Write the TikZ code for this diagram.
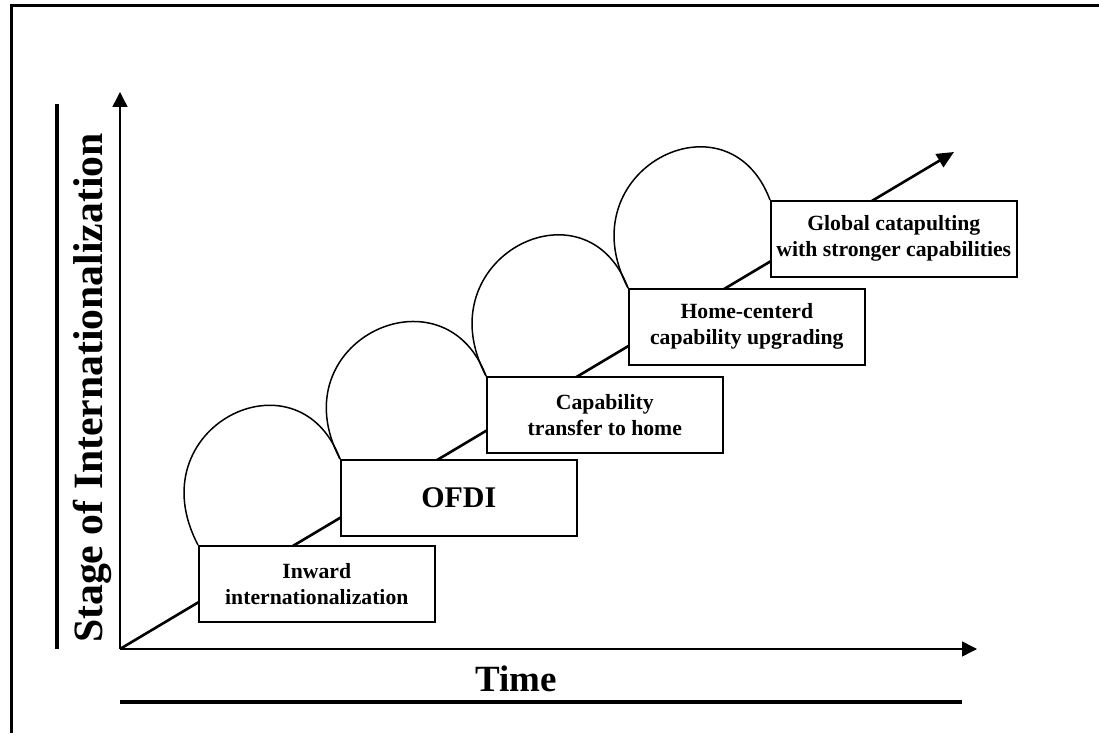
\documentclass[tikz,border=0pt]{standalone}
\usepackage{fontspec}
\setmainfont{Liberation Serif}
\usepackage{tikz}
\usetikzlibrary{arrows.meta, positioning}

\begin{document}
\begin{tikzpicture}[x=1pt, y=1pt, every node/.style={align=center},
    axis/.style={line width=1.5pt, -{Triangle[length=15pt, width=15pt]}},
    trend/.style={line width=2.6pt, -{Triangle[length=17pt, width=15pt]}},
    bar/.style={line width=4pt},
    stageloop/.style={line width=1.5pt},
    stagebox/.style={
        draw,
        line width=1.6pt,
        fill=white,
        minimum width=236pt,
        minimum height=76pt,
        inner sep=2pt,
        font=\bfseries\fontsize{21.7}{26}\selectfont,
        anchor=north west
    }]

    % page size and outer frame
    \useasboundingbox (0,0) rectangle (1099,733);
    \draw[line width=3pt] (11,0) -- (11,727) -- (1099,727);

    % Axes
    \coordinate (origin) at (120,84);
    \coordinate (ytop) at (120,641);
    \coordinate (xend) at (977,84);
    \coordinate (tip) at (954,581);
    \draw[axis] (origin) -- (ytop);
    \draw[axis] (origin) -- (xend);

    % Axis titles with their bars
    \node[rotate=90, anchor=base, font=\bfseries\fontsize{41.7}{46}\selectfont] (stage) at (102,345) {Stage of Internationalization};
    \node[anchor=base, font=\bfseries\fontsize{37}{42}\selectfont] (time) at (516,42) {Time};
    \coordinate (vbarlow) at (57,84);
    \coordinate (vbarhigh) at (57,629);
    \coordinate (hbarleft) at (120,31);
    \coordinate (hbarright) at (962,31);
    \draw[bar] (vbarlow) -- (vbarhigh);
    \draw[bar] (hbarleft) -- (hbarright);

    % Growth path
    \draw[trend] (origin) -- (tip);

    % Stage boxes
    \node[stagebox] (inward) at (198,188) {Inward\\internationalization};
    \node[stagebox, font=\bfseries\fontsize{30}{34}\selectfont] (ofdi) at (340,274) {OFDI};
    \node[stagebox] (transfer) at (486,357) {Capability\\transfer to home};
    \node[stagebox] (upgrading) at (628,445) {Home-centerd\\capability upgrading};
    \node[stagebox, minimum width=246pt] (catapult) at (770,533) {Global catapulting\\with stronger capabilities};

    % Loops between stages
    \draw[stageloop] (inward.north west) .. controls +(-62,118) and +(-42,112) .. (ofdi.north west);
    \draw[stageloop] (ofdi.north west) .. controls +(-62,118) and +(-42,112) .. (transfer.north west);
    \draw[stageloop] (transfer.north west) .. controls +(-62,118) and +(-42,112) .. (upgrading.north west);
    \draw[stageloop] (upgrading.north west) .. controls +(-62,118) and +(-42,112) .. (catapult.north west);

\end{tikzpicture}
\end{document}
